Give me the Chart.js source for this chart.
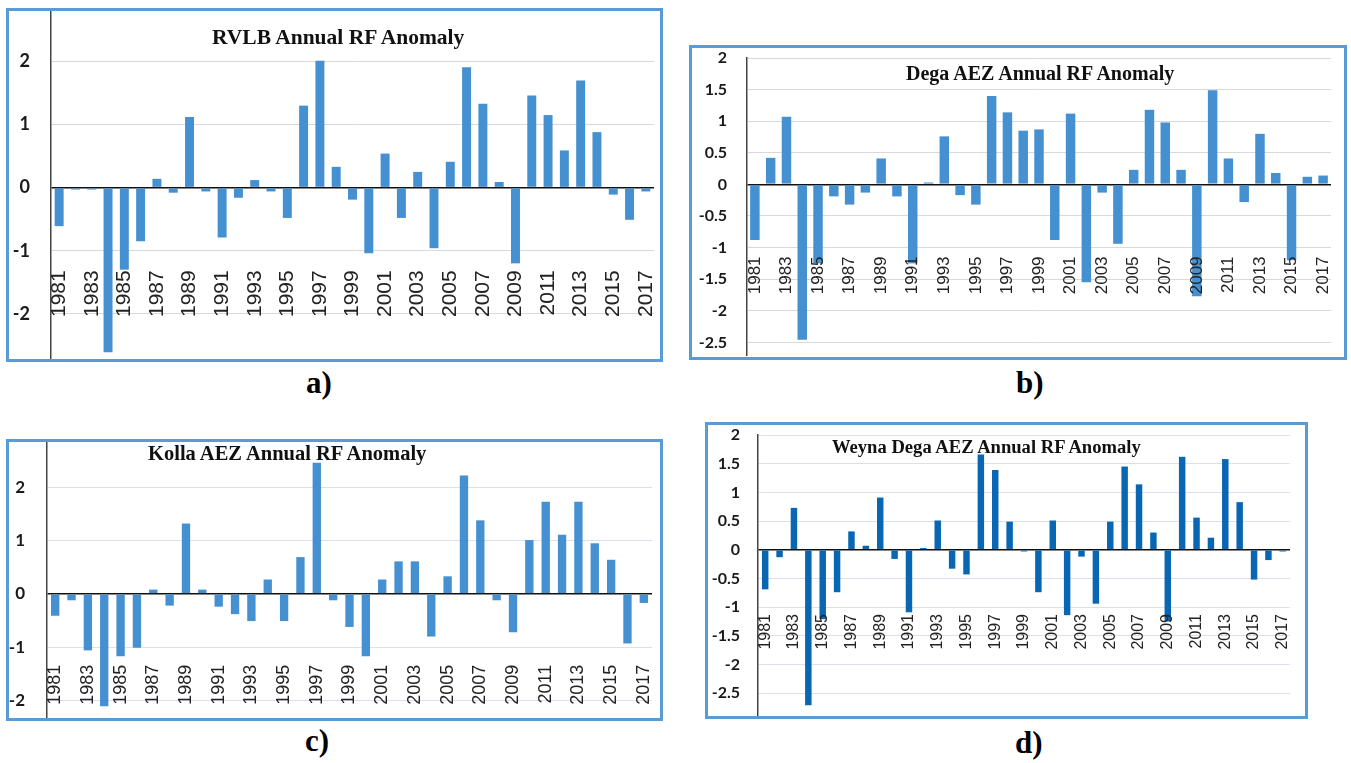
<!DOCTYPE html>
<html>
<head>
<meta charset="utf-8">
<script src="https://cdn.jsdelivr.net/npm/chart.js@4.4.0/dist/chart.umd.min.js"></script>
<style>
  body { margin: 0; background: #fff; width: 1351px; height: 763px; position: relative; overflow: hidden; }
  .panel { position: absolute; border: 3px solid #5b9bd5; box-sizing: border-box; background: #fff; }
  .panel canvas { position: absolute; left: 0; top: 0; }
  .ttl { position: absolute; font-family: "Liberation Serif", "Times New Roman", serif; font-weight: bold; line-height: 1; white-space: nowrap; color: #111; }
  .cap { position: absolute; font-family: "Liberation Serif", "Times New Roman", serif; font-weight: bold; font-size: 31px; line-height: 1; color: #000; }
</style>
</head>
<body>

<div class="panel" style="left:6px;top:8px;width:657px;height:354px"><canvas id="chartA" width="651" height="348"></canvas></div>
<div class="panel" style="left:689px;top:45px;width:658px;height:315px"><canvas id="chartB" width="652" height="309"></canvas></div>
<div class="panel" style="left:6px;top:439px;width:657px;height:282px"><canvas id="chartC" width="651" height="276"></canvas></div>
<div class="panel" style="left:705px;top:422px;width:603px;height:297px"><canvas id="chartD" width="597" height="291"></canvas></div>

<div class="ttl" style="left:212px;top:27px;font-size:21.5px">RVLB Annual RF Anomaly</div>
<div class="ttl" style="left:906px;top:63px;font-size:20px">Dega AEZ Annual RF Anomaly</div>
<div class="ttl" style="left:148px;top:443px;font-size:20.5px">Kolla AEZ Annual RF Anomaly</div>
<div class="ttl" style="left:832px;top:438px;font-size:18.6px">Weyna Dega AEZ Annual RF Anomaly</div>

<div class="cap" style="left:306px;top:367px">a)</div>
<div class="cap" style="left:1016px;top:367px">b)</div>
<div class="cap" style="left:305px;top:725px">c)</div>
<div class="cap" style="left:1015px;top:727px">d)</div>

<script>
const years = ['1981','1982','1983','1984','1985','1986','1987','1988','1989','1990',
  '1991','1992','1993','1994','1995','1996','1997','1998','1999','2000',
  '2001','2002','2003','2004','2005','2006','2007','2008','2009','2010',
  '2011','2012','2013','2014','2015','2016','2017'];

// annual rainfall anomaly per year
const rvlb = [-0.61, -0.03, -0.03, -2.61, -1.30, -0.85, 0.14, -0.08, 1.12, -0.06,
  -0.79, -0.16, 0.12, -0.06, -0.48, 1.30, 2.01, 0.33, -0.19, -1.04,
  0.54, -0.48, 0.25, -0.96, 0.41, 1.91, 1.33, 0.09, -1.20, 1.46,
  1.15, 0.59, 1.70, 0.88, -0.11, -0.51, -0.06];
const dega = [-0.88, 0.42, 1.07, -2.46, -1.25, -0.19, -0.32, -0.13, 0.41, -0.19,
  -1.25, 0.03, 0.76, -0.17, -0.32, 1.40, 1.14, 0.85, 0.87, -0.88,
  1.12, -1.55, -0.13, -0.94, 0.23, 1.18, 0.98, 0.23, -1.77, 1.49,
  0.41, -0.28, 0.80, 0.18, -1.20, 0.12, 0.14];
const kolla = [-0.41, -0.12, -1.06, -2.11, -1.17, -1.01, 0.08, -0.22, 1.32, 0.08,
  -0.24, -0.38, -0.51, 0.27, -0.51, 0.69, 2.46, -0.12, -0.62, -1.17,
  0.27, 0.61, 0.61, -0.80, 0.33, 2.22, 1.38, -0.12, -0.72, 1.01,
  1.73, 1.11, 1.73, 0.95, 0.64, -0.93, -0.17];
const weynaDega = [-0.69, -0.13, 0.73, -2.71, -1.21, -0.74, 0.32, 0.07, 0.91, -0.16,
  -1.09, 0.03, 0.51, -0.33, -0.43, 1.66, 1.39, 0.49, -0.03, -0.74,
  0.51, -1.14, -0.12, -0.94, 0.49, 1.45, 1.14, 0.30, -1.25, 1.62,
  0.56, 0.21, 1.58, 0.83, -0.52, -0.18, -0.03];

const ticksWhole = [-2, -1, 0, 1, 2];
const ticksHalf = [-2.5, -2, -1.5, -1, -0.5, 0, 0.5, 1, 1.5, 2];

function drawPanel(id, values, o) {
  new Chart(document.getElementById(id), {
    type: 'bar',
    data: {
      labels: years,
      datasets: [{
        data: values,
        backgroundColor: o.color,
        barPercentage: o.bar,
        categoryPercentage: 1
      }]
    },
    options: {
      responsive: false,
      animation: false,
      layout: { padding: o.pad },
      plugins: { legend: { display: false }, tooltip: { enabled: false } },
      scales: {
        x: {
          // year labels hang inside the plot, below the zero line, on top of the bars
          position: { y: o.labelAt },
          grid: { display: false, drawTicks: false },
          border: { display: false },
          ticks: {
            z: 1,
            autoSkip: false,
            minRotation: 90,
            maxRotation: 90,
            padding: 0,
            color: '#222',
            font: { family: 'Liberation Sans', size: o.xFont },
            callback: function(v, i) { return i % 2 === 0 ? years[i] : null; }
          },
          afterFit: function(s) { s.paddingLeft = 0; s.paddingRight = 0; }
        },
        y: {
          min: o.min,
          max: o.max,
          afterBuildTicks: function(s) { s.ticks = o.ticks.map(v => ({ value: v })); },
          afterFit: function(s) { s.width = o.yWidth; s.paddingTop = 0; s.paddingBottom = 0; },
          grid: {
            drawTicks: false,
            color: c => (c.tick && c.tick.value === 0) ? '#111' : o.grid,
            lineWidth: c => (c.tick && c.tick.value === 0) ? 1.6 : 1
          },
          border: { color: '#444', width: 1.5 },
          ticks: {
            padding: o.yPad,
            color: '#1a1a1a',
            font: { family: 'Lato', weight: 'bold', size: o.yFont },
            callback: function(v) { return String(v); }
          }
        }
      }
    }
  });
}

drawPanel('chartA', rvlb, {
  color: '#4590d0', bar: 0.55, min: -2.7, max: 2.8, ticks: ticksWhole,
  pad: { left: 0, top: 0, right: 6, bottom: 1 }, yWidth: 42, yPad: 21, yFont: 18,
  xFont: 21, labelAt: -1.31, grid: '#d9d9d9'
});
drawPanel('chartB', dega, {
  color: '#4590d0', bar: 0.6, min: -2.7, max: 2, ticks: ticksHalf,
  pad: { left: 0, top: 10, right: 13, bottom: 2 }, yWidth: 55, yPad: 20, yFont: 16,
  xFont: 17, labelAt: -1.14, grid: '#d9d9d9'
});
drawPanel('chartC', kolla, {
  color: '#4590d0', bar: 0.51, min: -2.31, max: 2.85, ticks: ticksWhole,
  pad: { left: 0, top: 0, right: 8, bottom: 1 }, yWidth: 38, yPad: 22, yFont: 17,
  xFont: 18, labelAt: -1.33, grid: '#dcdfee'
});
drawPanel('chartD', weynaDega, {
  color: '#0866b3', bar: 0.45, min: -2.88, max: 2, ticks: ticksHalf,
  pad: { left: 0, top: 10, right: 15, bottom: 1 }, yWidth: 50, yPad: 18, yFont: 16,
  xFont: 16, labelAt: -1.12, grid: '#dcdfee'
});
</script>
</body>
</html>
